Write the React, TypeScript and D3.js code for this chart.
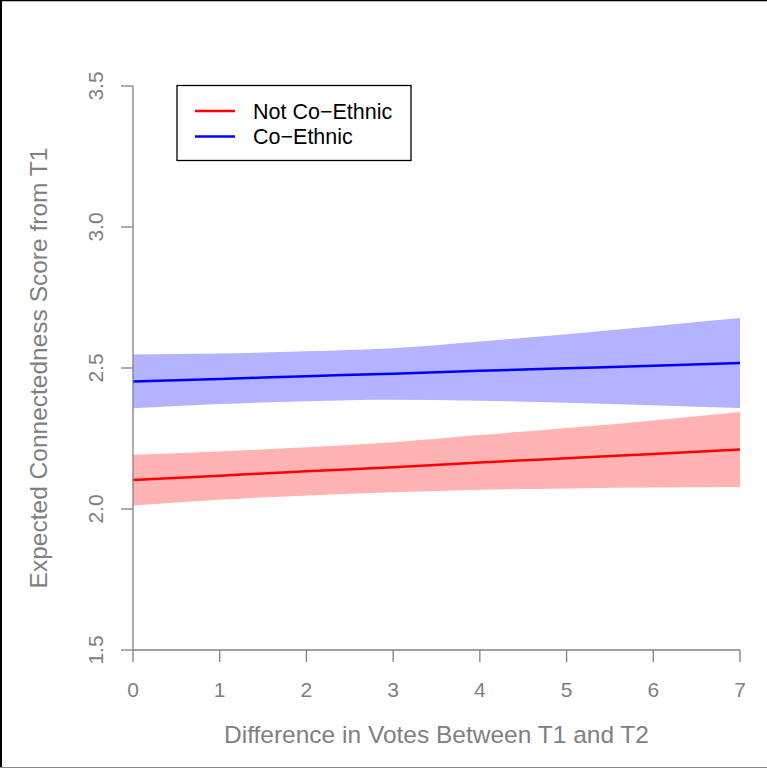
import React from "react";
import * as d3 from "d3";

// Difference in votes between T1 and T2
const voteDiff = [0, 1, 2, 3, 4, 5, 6, 7];

// Not co-ethnic: fitted score and 95% interval
const notCoFit = [2.103, 2.118, 2.134, 2.148, 2.165, 2.180, 2.195, 2.211];
const notCoUpper = [2.192, 2.204, 2.219, 2.237, 2.262, 2.287, 2.314, 2.344];
const notCoLower = [2.012, 2.033, 2.048, 2.059, 2.068, 2.073, 2.076, 2.078];

// Co-ethnic: fitted score and 95% interval
const coFit = [2.452, 2.461, 2.471, 2.480, 2.490, 2.499, 2.508, 2.518];
const coUpper = [2.548, 2.551, 2.559, 2.570, 2.594, 2.620, 2.648, 2.677];
const coLower = [2.357, 2.372, 2.382, 2.387, 2.384, 2.377, 2.368, 2.358];

const xTicks = [0, 1, 2, 3, 4, 5, 6, 7];
const yTicks = [1.5, 2.0, 2.5, 3.0, 3.5];

const legendLabels = ["Not Co\u2212Ethnic", "Co\u2212Ethnic"];
const legendColors = ["#FF0000", "#0000FF"];

const W = 767;
const H = 768;
const AXIS = "#808080";
const FONT = "'Liberation Sans', Arial, Helvetica, sans-serif";

export default function App() {
  const x = d3.scaleLinear().domain([0, 7]).range([133, 740]);
  const y = d3.scaleLinear().domain([1.5, 3.5]).range([650, 86]);

  const band = (lo: number[], hi: number[]) =>
    d3
      .area<number>()
      .x((d) => x(d))
      .y0((_, i) => y(lo[i]))
      .y1((_, i) => y(hi[i]))
      .curve(d3.curveMonotoneX)(voteDiff) as string;

  const line = (v: number[]) =>
    d3
      .line<number>()
      .x((d) => x(d))
      .y((_, i) => y(v[i]))
      .curve(d3.curveMonotoneX)(voteDiff) as string;

  const fmtY = d3.format(".1f");

  return (
    <svg
      width={W}
      height={H}
      style={{ position: "absolute", left: 0, top: 0, background: "#fff" }}
      fontFamily={FONT}
    >
      <rect x={0} y={0} width={W} height={H} fill="#fff" />
      {/* frame edges */}
      <line x1={0} y1={0.5} x2={W} y2={0.5} stroke="#000" strokeWidth={1.5} />
      <line x1={1} y1={0} x2={1} y2={H} stroke="#000" strokeWidth={2} />
      <line x1={0} y1={H - 0.5} x2={W} y2={H - 0.5} stroke="#888" strokeWidth={1} />

      {/* confidence bands */}
      <path d={band(coLower, coUpper)} fill="#B3B3FF" stroke="none" />
      <path d={band(notCoLower, notCoUpper)} fill="#FFB3B3" stroke="none" />

      {/* fitted lines */}
      <path d={line(notCoFit)} fill="none" stroke="#FF0000" strokeWidth={2.5} />
      <path d={line(coFit)} fill="none" stroke="#0000FF" strokeWidth={2.5} />

      {/* x axis */}
      <line x1={x(0)} y1={650} x2={x(7)} y2={650} stroke={AXIS} strokeWidth={1.3} />
      {xTicks.map((t) => (
        <g key={"x" + t}>
          <line x1={x(t)} y1={650} x2={x(t)} y2={662} stroke={AXIS} strokeWidth={1.3} />
          <text x={x(t)} y={697} fill={AXIS} fontSize={21} textAnchor="middle">
            {t}
          </text>
        </g>
      ))}

      {/* y axis */}
      <line x1={133} y1={y(1.5)} x2={133} y2={y(3.5)} stroke={AXIS} strokeWidth={1.3} />
      {yTicks.map((t) => (
        <g key={"y" + t}>
          <line x1={121} y1={y(t)} x2={133} y2={y(t)} stroke={AXIS} strokeWidth={1.3} />
          <text
            transform={`translate(103,${y(t)}) rotate(-90)`}
            fill={AXIS}
            fontSize={21}
            textAnchor="middle"
          >
            {fmtY(t)}
          </text>
        </g>
      ))}

      {/* axis titles */}
      <text x={436.5} y={743} fill={AXIS} fontSize={24.5} textAnchor="middle">
        Difference in Votes Between T1 and T2
      </text>
      <text
        transform={`translate(47,368) rotate(-90)`}
        fill={AXIS}
        fontSize={24.5}
        textAnchor="middle"
      >
        Expected Connectedness Score from T1
      </text>

      {/* legend */}
      <rect x={177} y={85.5} width={234} height={75} fill="#fff" stroke="#000" strokeWidth={1.3} />
      {legendLabels.map((lab, i) => (
        <g key={lab}>
          <line
            x1={195}
            y1={111 + i * 25.5}
            x2={235}
            y2={111 + i * 25.5}
            stroke={legendColors[i]}
            strokeWidth={2.5}
          />
          <text x={253} y={118.5 + i * 25.5} fill="#000" fontSize={21.5}>
            {lab}
          </text>
        </g>
      ))}
    </svg>
  );
}
